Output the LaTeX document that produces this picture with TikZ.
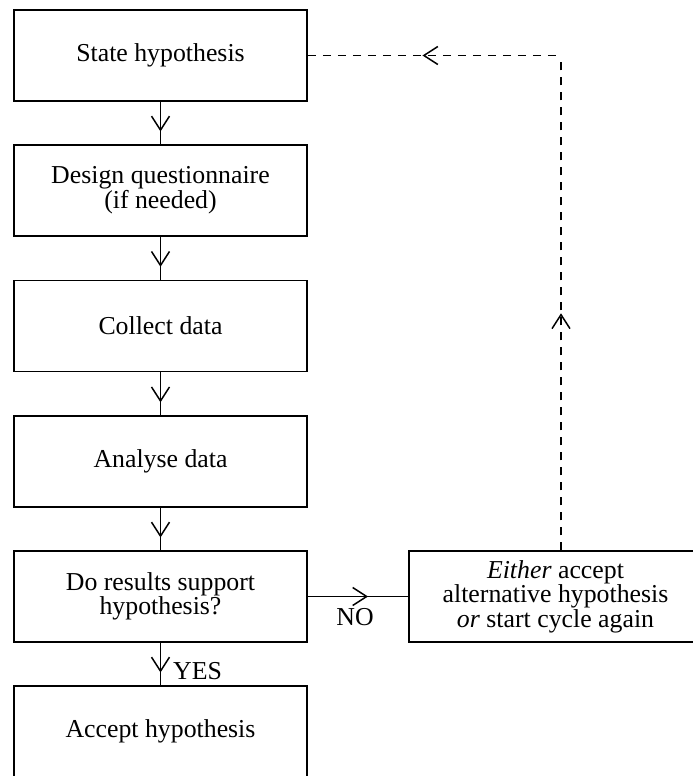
\documentclass[tikz,border=0pt]{standalone}
\usepackage{fontspec}
\setmainfont{Liberation Serif}
\usetikzlibrary{arrows.meta,decorations.markings}

\tikzset{
  stepbox/.style={draw, line width=1.5pt, minimum width=293pt, minimum height=91pt,
    align=center, inner sep=0pt, font=\fontsize{25.8}{22.5}\selectfont},
  lbl/.style={inner sep=0pt, font=\fontsize{25.8}{22.5}\selectfont},
  barb/.tip={Straight Barb[length=14pt,width=18pt,line width=1.5pt]},
  flow/.style={line width=1.5pt, postaction={decorate},
    decoration={markings, mark=at position #1 with {\arrow[solid]{barb}}}},
  flow/.default=0.7,
  backflow/.style={line width=1.5pt, dash pattern=on 8pt off 7pt, postaction={decorate},
    decoration={markings, mark=at position #1 with {\arrowreversed[solid]{barb}}}},
  fback/.style={flow=#1, dash pattern=on 8pt off 7pt}
}

\begin{document}
\begin{tikzpicture}[x=1pt,y=-1pt]
  \useasboundingbox (0,0) rectangle (693,776);
  \clip (0,0) rectangle (693,776);

  % main column of steps
  \node[stepbox] (state)   at (160.5,55.5)  {State hypothesis};
  \node[stepbox] (design)  at (160.5,190.5) {Design questionnaire\\(if needed)};
  \node[stepbox] (collect) at (160.5,326)   {Collect data};
  \node[stepbox] (analyse) at (160.5,461.5) {Analyse data};
  \node[stepbox] (check)   at (160.5,596.5) {Do results support\\hypothesis?};
  \node[stepbox] (accept)  at (160.5,731.5) {Accept hypothesis};

  % alternative outcome
  \node[stepbox] (alt) at (555.5,596.5)
    {\textit{Either} accept\\alternative hypothesis\\\textit{or} start cycle again};

  % forward connectors
  \draw[flow] (state.south)   -- (design.north);
  \draw[flow] (design.south)  -- (collect.north);
  \draw[flow] (collect.south) -- (analyse.north);
  \draw[flow] (analyse.south) -- (check.north);
  \draw[flow] (check.south)   -- (accept.north);
  \draw[flow=0.6] (check.east) -- (alt.west);

  \node[lbl, anchor=west] (yes) at (173,671) {YES};
  \node[lbl] (no) at (355,617) {NO};

  % feedback loop back to the start
  \coordinate (corner) at (561,55.5);
  \draw[fback=0.479] (corner |- alt.north) -- (corner);
  \draw[backflow=0.453] (state.east) -- (corner);
\end{tikzpicture}
\end{document}
